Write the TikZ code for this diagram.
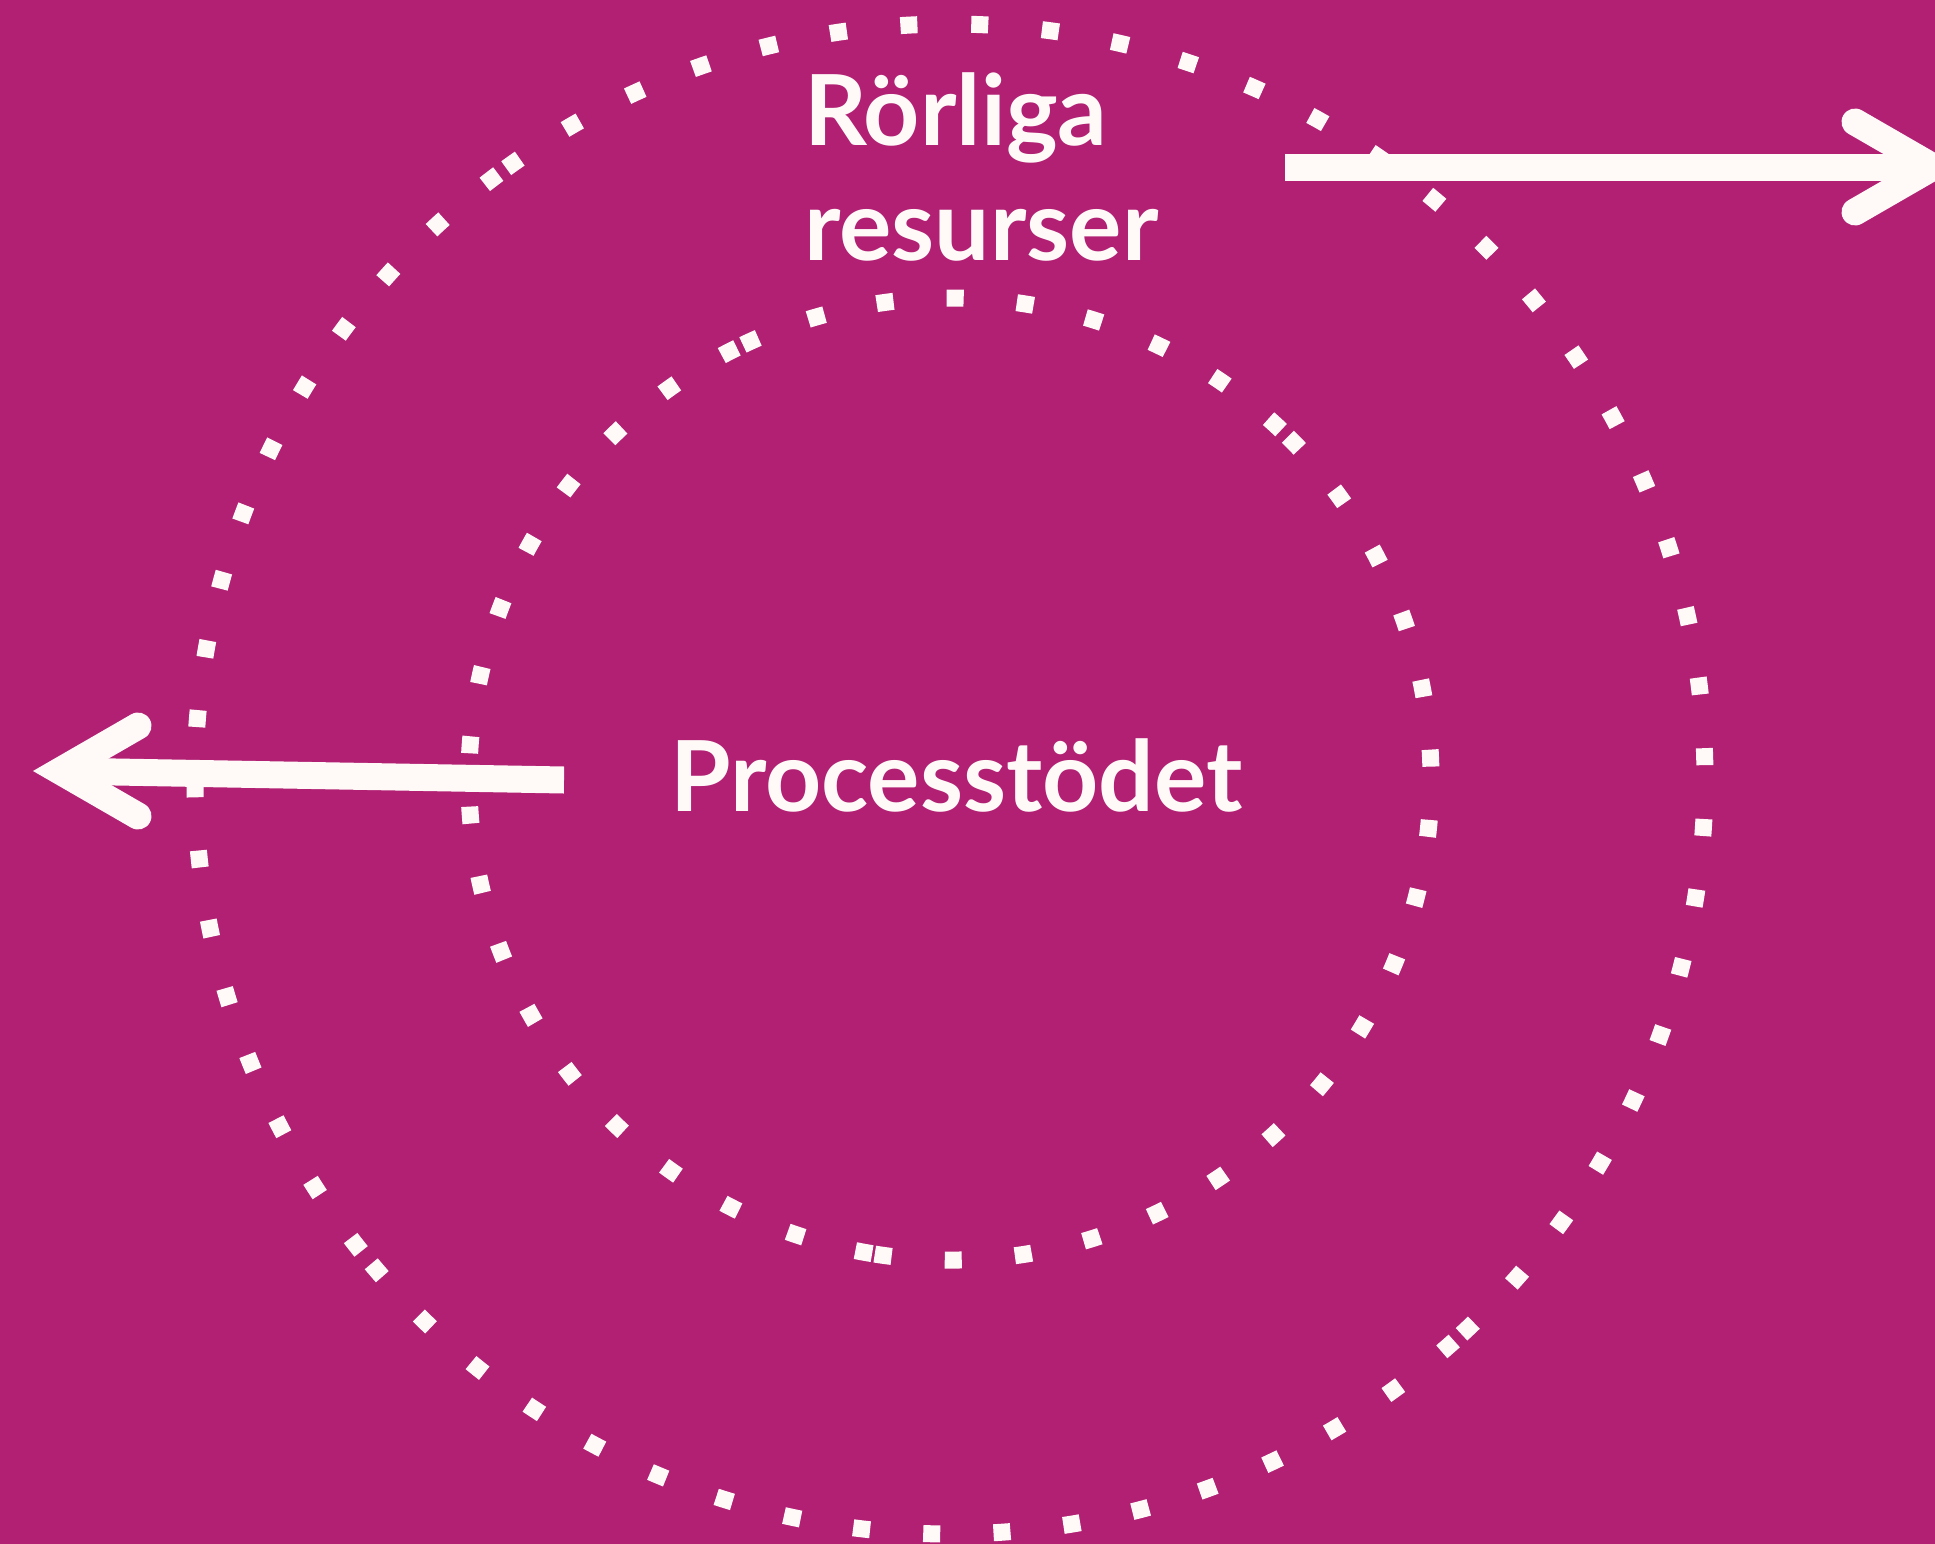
\documentclass[tikz,border=0pt]{standalone}
\usepackage{fontspec}
\setmainfont{Lato}
\usetikzlibrary{calc}
\definecolor{plum}{HTML}{B12073}
\definecolor{chalk}{HTML}{FFFAF8}
\tikzset{
  ring/.style={draw=chalk,line width=17pt,dash pattern=on 17pt off #1},
  ring/.default=53.3pt,
  shaft/.style={draw=chalk,line width=27pt},
  barb/.style={draw=chalk,line width=27pt,line cap=round,line join=miter},
  word/.style={text=chalk,inner sep=0pt,font=\fontsize{98}{115}\selectfont\bfseries}
}
\begin{document}
\begin{tikzpicture}
  [x=1pt,y=-1pt]
  \fill[plum] (0,0) rectangle (1935,1544);
  \useasboundingbox (0,0) rectangle (1935,1544);

  % the two dotted rings, each drawn in three arcs
  \coordinate (mid) at (950,779);
  \foreach \a/\b/\g in {126.75/218.74/53.3pt,219.95/311.9/53.3pt,312.65/486/53.87pt}
    \draw[ring=\g] ($(mid)+(-\a:755)$) arc[start angle=-\a,end angle=-\b,radius=755];
  \foreach \a/\b in {46.5/115.5,116.3/260.7,261/405.4}
    \draw[ring] ($(mid)+(-\a:481)$) arc[start angle=-\a,end angle=-\b,radius=481];

  % arrows
  \coordinate (rs) at (1285,167);
  \coordinate (rt) at (1933,167);
  \coordinate (ls) at (564,780);
  \coordinate (lt) at (60,771);
  \draw[shaft] (rs) -- (rt);
  \draw[barb] ($(rt)+(-78,-45)$) -- (rt) -- ($(rt)+(-78,45)$);
  \draw[shaft] (ls) -- (lt);
  \draw[barb] ($(lt)+(78,-45)$) -- (lt) -- ($(lt)+(78,45)$);

  \node[word,anchor=north west,align=left] (rr) at (804,72) {Rörliga\\resurser};
  \node[word,anchor=base west] (ps) at (670,811) {Processtödet};

\end{tikzpicture}
\end{document}
